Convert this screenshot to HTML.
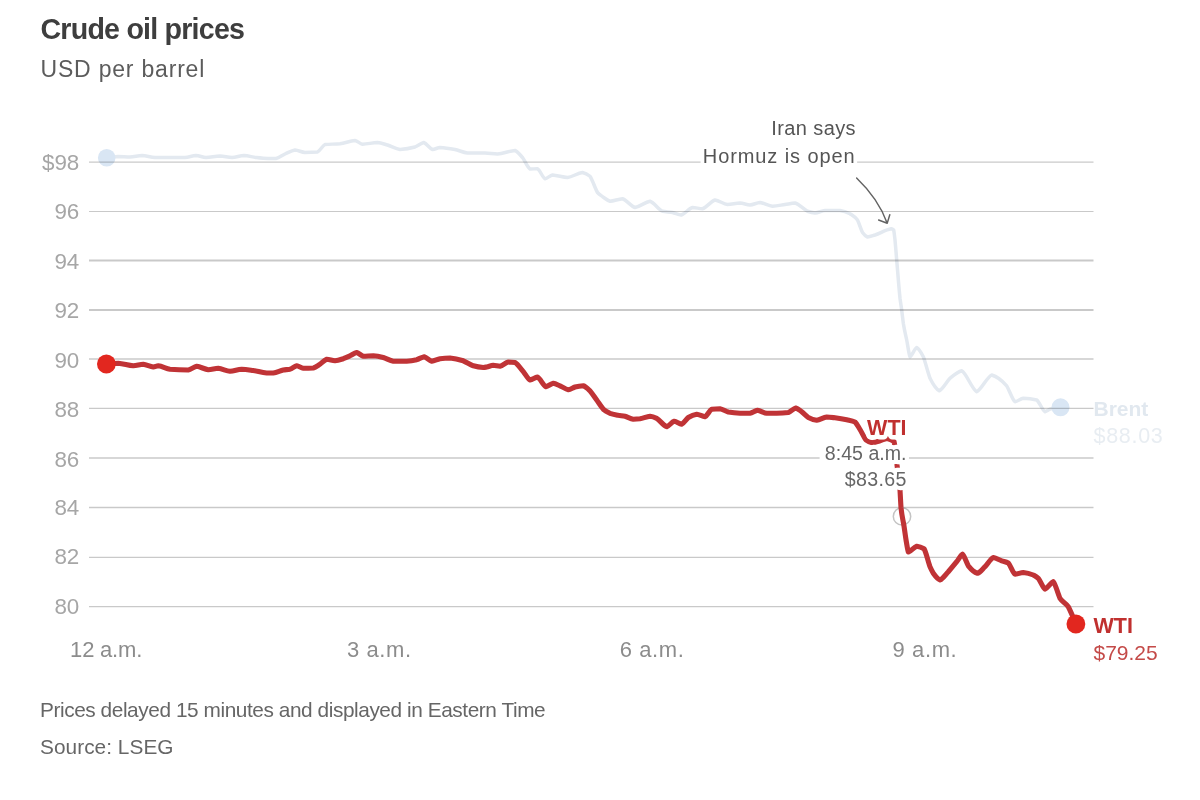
<!DOCTYPE html>
<html><head><meta charset="utf-8"><title>Crude oil prices</title>
<style>
html,body{margin:0;padding:0;background:#fff;}
svg{display:block;}
text{font-family:"Liberation Sans",Arial,sans-serif;}
.halo{paint-order:stroke;stroke:#fff;stroke-width:7.5px;stroke-linejoin:round;}
</style></head><body>
<svg width="1200" height="800" viewBox="0 0 1200 800">
<rect width="1200" height="800" fill="#fff"/>
<text x="40.5" y="39.3" font-size="28.6" font-weight="700" fill="#3e3e3e" letter-spacing="-0.78">Crude oil prices</text>
<text x="40.5" y="77" font-size="23" fill="#5c5c5c" letter-spacing="0.8">USD per barrel</text>
<!-- brent -->
<g fill="none" stroke="#e3e9f0" stroke-width="3.5" stroke-linejoin="round" stroke-linecap="round">
<path d="M106.70,157.70C110.47,157.18 114.23,156.66 118.00,156.50C122.00,156.57 126.00,156.93 130.00,157.00C134.00,156.80 138.00,155.70 142.00,155.50C146.33,155.77 150.67,157.23 155.00,157.50C160.00,157.50 165.00,157.50 170.00,157.50C175.00,157.50 180.00,157.50 185.00,157.50C188.67,157.23 192.33,155.77 196.00,155.50C199.33,155.77 202.67,157.23 206.00,157.50C210.67,157.30 215.33,156.20 220.00,156.00C224.00,156.20 228.00,157.30 232.00,157.50C236.00,157.23 240.00,155.77 244.00,155.50C248.00,155.77 252.00,156.93 256.00,157.50C260.00,157.93 264.00,158.37 268.00,158.50C270.67,158.50 273.33,158.50 276.00,158.50C279.00,157.90 282.00,155.41 285.00,154.00C288.33,152.56 291.67,150.53 295.00,150.00C298.33,150.33 301.67,152.17 305.00,152.50C309.17,152.43 313.33,152.27 317.50,152.00C320.00,150.88 322.50,145.65 325.00,144.50C330.00,144.10 335.00,144.15 340.00,143.75C345.00,143.02 350.00,140.93 355.00,140.50C357.50,141.00 360.00,143.75 362.50,144.25C367.50,144.02 372.50,142.73 377.50,142.50C380.83,142.83 384.17,144.07 387.50,145.00C391.67,146.35 395.83,148.90 400.00,149.50C405.00,149.17 410.00,148.33 415.00,147.00C417.92,145.82 420.83,143.10 423.75,142.50C426.67,143.43 429.58,148.57 432.50,149.50C435.00,149.23 437.50,147.77 440.00,147.50C445.00,147.77 450.00,148.59 455.00,149.50C459.17,150.50 463.33,152.53 467.50,153.00C473.33,153.00 479.17,153.00 485.00,153.00C489.17,153.13 493.33,153.87 497.50,154.00C503.33,153.53 509.17,150.97 515.00,150.50C517.50,151.43 520.00,154.72 522.50,157.50C525.00,160.88 527.50,167.47 530.00,169.00C532.50,168.97 535.00,168.78 537.50,168.75C540.00,170.08 542.50,177.42 545.00,178.75C547.50,178.25 550.00,175.50 552.50,175.00C557.50,175.33 562.50,177.17 567.50,177.50C572.50,176.83 577.50,173.17 582.50,172.50C585.00,173.00 587.50,174.25 590.00,176.25C592.50,179.92 595.00,188.25 597.50,192.50C599.33,194.63 601.17,195.60 603.00,197.00C605.33,198.58 607.67,200.68 610.00,201.25C614.17,200.92 618.33,199.08 622.50,198.75C626.67,199.92 630.83,206.33 635.00,207.50C640.00,206.67 645.00,202.08 650.00,201.25C654.17,202.58 658.33,209.29 662.50,211.25C665.83,211.92 669.17,211.91 672.50,212.50C675.42,213.20 678.33,214.67 681.25,215.00C685.00,214.00 688.75,208.50 692.50,207.50C695.83,207.67 699.17,208.58 702.50,208.75C706.67,207.58 710.83,201.17 715.00,200.00C719.17,200.60 723.33,203.90 727.50,204.50C731.67,204.30 735.83,203.20 740.00,203.00C743.33,203.27 746.67,204.73 750.00,205.00C753.33,204.67 756.67,202.83 760.00,202.50C764.17,203.00 768.33,205.75 772.50,206.25C776.67,206.02 780.83,205.10 785.00,204.50C788.33,204.01 791.67,203.20 795.00,203.00C799.17,204.10 803.33,209.17 807.50,211.25C810.00,212.07 812.50,212.77 815.00,213.00C818.33,212.67 821.67,210.83 825.00,210.50C830.00,210.50 835.00,210.50 840.00,210.50C843.33,210.93 846.67,212.09 850.00,213.75C852.50,215.51 855.00,216.67 857.50,220.00C859.17,223.33 860.83,229.13 862.50,232.50C864.17,234.80 865.83,236.40 867.50,237.00C870.00,236.73 872.50,235.72 875.00,235.00C880.42,233.18 885.83,229.58 891.25,228.75C892.03,228.89 892.82,229.24 893.60,229.80C894.07,231.41 894.53,236.03 895.00,240.00C895.57,245.83 896.13,253.35 896.70,260.00C897.80,272.84 898.90,287.59 900.00,298.30C900.57,302.75 901.13,305.85 901.70,310.00C902.23,314.21 902.77,319.21 903.30,323.30C904.43,330.44 905.57,334.38 906.70,340.00C907.80,345.52 908.90,354.47 910.00,356.70C912.23,355.47 914.47,348.73 916.70,347.50C918.90,348.73 921.10,352.43 923.30,356.70C925.53,362.66 927.77,372.15 930.00,378.30C933.07,384.45 936.13,389.13 939.20,390.80C942.80,389.13 946.40,381.93 950.00,378.30C953.90,375.17 957.80,371.80 961.70,370.80C966.70,373.59 971.70,388.91 976.70,391.70C981.70,389.47 986.70,377.23 991.70,375.00C996.70,376.44 1001.70,380.04 1006.70,385.80C1009.47,390.31 1012.23,399.58 1015.00,401.70C1017.77,401.25 1020.53,398.75 1023.30,398.30C1027.77,398.53 1032.23,399.09 1036.70,400.00C1039.47,401.98 1042.23,410.14 1045.00,411.70C1046.67,411.37 1048.33,409.94 1050.00,409.20C1053.33,408.09 1056.67,407.55 1060.00,407.00"/>
</g>
<circle cx="106.7" cy="157.7" r="8.8" fill="#d9e6f4"/>
<circle cx="1060.5" cy="407.3" r="9" fill="#d9e6f4"/>
<g font-size="22.4" fill="#a6a6a6" text-anchor="end">
<text x="79.3" y="170">$98</text>
<text x="79.3" y="219.3">96</text>
<text x="79.3" y="268.5">94</text>
<text x="79.3" y="318.3">92</text>
<text x="79.3" y="367.8">90</text>
<text x="79.3" y="417">88</text>
<text x="79.3" y="466.5">86</text>
<text x="79.3" y="515.3">84</text>
<text x="79.3" y="564.4">82</text>
<text x="79.3" y="613.5">80</text>
</g>
<g font-size="22" fill="#8c8c8c" text-anchor="middle">
<text x="106.1" y="656.6" letter-spacing="-0.2">12 a.m.</text>
<text x="379.3" y="656.6" letter-spacing="0.6">3 a.m.</text>
<text x="652.1" y="656.6" letter-spacing="0.6">6 a.m.</text>
<text x="924.9" y="656.6" letter-spacing="0.6">9 a.m.</text>
</g>
<circle cx="902" cy="516.4" r="8.7" fill="none" stroke="#c4c4c4" stroke-width="1.5"/>
<!-- grid -->
<g stroke="#000" stroke-opacity="0.21">
<line x1="89" x2="1093.5" y1="162.1" y2="162.1" stroke-width="1.2"/>
<line x1="89" x2="1093.5" y1="211.5" y2="211.5" stroke-width="1.2"/>
<line x1="89" x2="1093.5" y1="260.5" y2="260.5" stroke-width="2"/>
<line x1="89" x2="1093.5" y1="310" y2="310" stroke-width="2"/>
<line x1="89" x2="1093.5" y1="359" y2="359" stroke-width="1.3"/>
<line x1="89" x2="1093.5" y1="408.4" y2="408.4" stroke-width="1.3"/>
<line x1="89" x2="1093.5" y1="458" y2="458" stroke-width="1.3"/>
<line x1="89" x2="1093.5" y1="507.5" y2="507.5" stroke-width="1.3"/>
<line x1="89" x2="1093.5" y1="557.3" y2="557.3" stroke-width="1.3"/>
<line x1="89" x2="1093.5" y1="606.6" y2="606.6" stroke-width="1.3"/>
</g>
<!-- wti -->
<path d="M106.70,364.20C110.57,363.81 114.43,363.42 118.30,363.30C123.30,363.63 128.30,365.47 133.30,365.80C136.63,365.59 139.97,364.41 143.30,364.20C146.63,364.57 149.97,366.63 153.30,367.00C154.97,366.84 156.63,365.96 158.30,365.80C162.20,366.25 166.10,368.54 170.00,369.20C176.10,369.63 182.20,369.89 188.30,370.00C191.10,369.51 193.90,366.79 196.70,366.30C200.57,366.75 204.43,369.25 208.30,369.70C211.63,369.51 214.97,368.49 218.30,368.30C222.20,368.70 226.10,370.90 230.00,371.30C233.90,371.02 237.80,369.48 241.70,369.20C245.57,369.37 249.43,369.99 253.30,370.50C257.77,371.23 262.23,372.67 266.70,373.00C268.90,373.00 271.10,373.00 273.30,373.00C276.63,372.60 279.97,370.78 283.30,370.00C285.53,369.64 287.77,369.63 290.00,369.20C292.23,368.43 294.47,366.25 296.70,365.80C298.90,366.13 301.10,367.97 303.30,368.30C306.63,368.26 309.97,368.16 313.30,368.00C315.53,367.41 317.77,365.59 320.00,364.20C322.23,362.65 324.47,359.87 326.70,359.20C329.47,359.41 332.23,360.59 335.00,360.80C337.77,360.52 340.53,359.57 343.30,358.70C345.53,357.84 347.77,356.81 350.00,355.80C352.23,354.74 354.47,352.94 356.70,352.50C358.90,353.01 361.10,355.79 363.30,356.30C366.63,356.23 369.97,355.87 373.30,355.80C376.63,356.03 379.97,356.72 383.30,357.50C386.63,358.56 389.97,360.79 393.30,361.30C397.77,361.30 402.23,361.30 406.70,361.30C410.03,361.09 413.37,360.51 416.70,359.70C419.20,358.85 421.70,357.10 424.20,356.70C426.70,357.31 429.20,360.69 431.70,361.30C434.47,360.95 437.23,359.28 440.00,358.70C443.33,358.33 446.67,358.09 450.00,358.00C454.43,358.37 458.87,359.43 463.30,360.80C466.63,362.22 469.97,364.46 473.30,365.80C476.63,366.70 479.97,367.27 483.30,367.50C484.43,367.43 485.57,367.19 486.70,367.00C488.90,366.53 491.10,365.53 493.30,365.30C495.53,365.42 497.77,366.08 500.00,366.20C502.77,365.64 505.53,362.56 508.30,362.00C510.53,362.07 512.77,362.23 515.00,362.50C517.77,363.97 520.53,368.51 523.30,371.70C525.53,374.39 527.77,378.89 530.00,380.00C532.50,379.60 535.00,377.40 537.50,377.00C540.27,378.29 543.03,385.41 545.80,386.70C548.30,386.25 550.80,383.75 553.30,383.30C555.53,383.63 557.77,384.91 560.00,385.80C562.77,387.01 565.53,389.18 568.30,389.70C570.53,389.34 572.77,387.75 575.00,387.00C577.77,386.36 580.53,385.96 583.30,385.80C585.53,386.47 587.77,388.71 590.00,390.80C592.23,393.45 594.47,396.92 596.70,400.00C598.90,403.05 601.10,406.65 603.30,409.20C605.53,411.09 607.77,412.16 610.00,413.30C612.77,414.31 615.53,414.72 618.30,415.30C620.53,415.69 622.77,415.85 625.00,416.30C627.77,417.08 630.53,418.81 633.30,419.20C635.53,419.13 637.77,418.96 640.00,418.70C643.33,418.10 646.67,416.62 650.00,416.30C652.23,416.57 654.47,417.34 656.70,418.30C660.03,420.45 663.37,425.58 666.70,426.70C669.20,425.98 671.70,422.02 674.20,421.30C676.70,421.69 679.20,423.81 681.70,424.20C683.90,423.31 686.10,419.37 688.30,417.50C691.10,415.81 693.90,414.64 696.70,414.20C699.47,414.53 702.23,416.37 705.00,416.70C707.23,415.70 709.47,410.36 711.70,409.20C714.47,408.93 717.23,408.77 720.00,408.70C722.77,409.14 725.53,411.19 728.30,412.00C732.20,412.69 736.10,413.13 740.00,413.30C743.33,413.30 746.67,413.30 750.00,413.30C752.50,412.90 755.00,410.70 757.50,410.30C760.57,410.70 763.63,412.90 766.70,413.30C770.03,413.30 773.37,413.30 776.70,413.30C780.57,413.19 784.43,412.93 788.30,412.50C790.80,411.69 793.30,408.60 795.80,408.00C797.77,408.49 799.73,410.33 801.70,411.70C803.90,413.46 806.10,415.88 808.30,417.50C811.10,418.95 813.90,419.93 816.70,420.30C820.03,419.86 823.37,417.44 826.70,417.00C829.47,417.11 832.23,417.48 835.00,417.80C838.90,418.36 842.80,419.00 846.70,419.80C849.47,420.47 852.23,420.83 855.00,422.00C856.67,423.53 858.33,426.89 860.00,429.50C862.00,432.84 864.00,437.48 866.00,440.00C868.00,441.49 870.00,442.43 872.00,442.80C874.47,442.56 876.93,441.66 879.40,441.00C881.93,440.23 884.47,438.83 887.00,438.50C889.33,438.90 891.67,439.90 894.00,441.50C895.00,445.15 896.00,457.02 897.00,465.00C898.00,473.18 899.00,477.54 900.00,490.00C900.33,495.38 900.67,502.70 901.00,507.50C902.00,517.37 903.00,519.61 904.00,526.00C904.73,530.88 905.47,536.40 906.20,541.00C906.93,545.07 907.67,550.53 908.40,552.00C911.17,551.23 913.93,546.97 916.70,546.20C919.13,546.53 921.57,547.37 924.00,548.70C926.00,551.92 928.00,561.47 930.00,566.70C931.10,569.13 932.20,571.32 933.30,573.30C935.53,576.43 937.77,579.11 940.00,580.00C942.77,578.89 945.53,574.62 948.30,571.70C951.10,568.53 953.90,565.14 956.70,561.70C958.63,559.25 960.57,555.20 962.50,554.20C964.43,555.75 966.37,562.46 968.30,565.80C971.37,569.64 974.43,572.30 977.50,573.30C980.00,572.42 982.50,569.06 985.00,566.70C987.77,563.83 990.53,558.73 993.30,557.50C996.10,557.94 998.90,559.76 1001.70,560.80C1003.90,561.57 1006.10,561.83 1008.30,563.00C1010.53,565.39 1012.77,572.71 1015.00,574.20C1017.77,573.97 1020.53,572.73 1023.30,572.50C1026.63,572.83 1029.97,573.67 1033.30,575.00C1034.97,575.94 1036.63,576.79 1038.30,578.30C1040.53,581.19 1042.77,587.75 1045.00,589.20C1047.77,588.20 1050.53,582.70 1053.30,581.70C1055.53,583.91 1057.77,593.64 1060.00,598.30C1062.77,602.45 1065.53,602.80 1068.30,606.70C1070.83,611.55 1073.37,617.77 1075.90,624.00" fill="none" stroke="#c03336" stroke-width="5.1" stroke-linejoin="round" stroke-linecap="round"/>
<circle cx="106.4" cy="364" r="9.4" fill="#e2271f"/>
<circle cx="1075.9" cy="624" r="9.4" fill="#e2271f"/>
<!-- labels -->
<rect x="701.5" y="159" width="155.5" height="6" fill="#fff"/>
<rect x="819.6" y="455" width="89.4" height="6" fill="#fff"/>
<g class="halo" text-anchor="end">
<text x="906.5" y="434.8" font-size="21.5" font-weight="700" fill="#c0302f" style="stroke-width:9px">WTI</text>
<text x="906.5" y="460.4" font-size="19.6" fill="#666" style="stroke-width:8.5px">8:45 a.m.</text>
<text x="906.8" y="485.8" font-size="19.6" fill="#666" style="stroke-width:8.5px" letter-spacing="0.35">$83.65</text>
<text x="856" y="134.5" font-size="20" fill="#555" letter-spacing="0.4">Iran says</text>
<text x="855.5" y="162.5" font-size="20" fill="#555" letter-spacing="0.9">Hormuz is open</text>
</g>
<path d="M856.6,178 C866,187 880,203 887.2,223.3 M878.6,220 L887.2,223.3 L889.8,214.8" fill="none" stroke="#636363" stroke-width="1.45" stroke-linecap="round" stroke-linejoin="round"/>
<text x="1093.5" y="416.3" font-size="21" font-weight="700" fill="#e1e8ef">Brent</text>
<text x="1093.5" y="443" font-size="21.5" fill="#e8edf2" letter-spacing="0.7">$88.03</text>
<text x="1093.5" y="632.6" font-size="21.5" font-weight="700" fill="#c0302f">WTI</text>
<text x="1093.5" y="659.8" font-size="21" fill="#c44a48">$79.25</text>
<text x="40" y="717.4" font-size="20.8" fill="#666" letter-spacing="-0.42">Prices delayed 15 minutes and displayed in Eastern Time</text>
<text x="40" y="753.8" font-size="20.8" fill="#666" letter-spacing="0.05">Source: LSEG</text>
</svg>
</body></html>
